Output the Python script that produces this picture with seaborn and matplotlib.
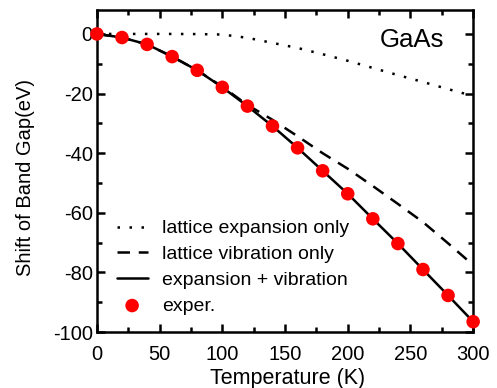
import numpy as np
import pandas as pd
import matplotlib
matplotlib.use("Agg")
import matplotlib.pyplot as plt
import seaborn as sns
from matplotlib.ticker import MultipleLocator

# ---- data ----
temps = [0, 20, 40, 60, 80, 100, 120, 140, 160, 180, 200, 220, 240, 260, 280, 300]
exper = [0.0, -1.2, -3.5, -7.6, -12.2, -17.9, -24.2, -30.9, -38.2, -45.9, -53.6, -62.0, -70.3, -79.0, -87.7, -96.5]
expansion_only = [0.0, 0.0, 0.0, 0.0, -0.05, -0.2, -1.3, -3.0, -4.7, -6.8, -9.0, -11.4, -13.8, -16.1, -18.5, -20.8]
vibration_only = [0.0, -1.2, -3.5, -7.6, -12.2, -17.7, -23.8, -28.8, -34.3, -40.0, -45.2, -51.0, -57.0, -63.1, -70.2, -77.5]
combined = exper

labels = ["lattice expansion only", "lattice vibration only", "expansion + vibration", "exper."]
title_text = "GaAs"
xlabel = "Temperature (K)"
ylabel = "Shift of Band Gap(eV)"

sns.set_style("ticks")
plt.rcParams["font.family"] = ["Liberation Sans", "DejaVu Sans"]
plt.rcParams["axes.unicode_minus"] = False
plt.rcParams["text.color"] = "black"
plt.rcParams["axes.labelcolor"] = "black"
plt.rcParams["xtick.color"] = "black"
plt.rcParams["ytick.color"] = "black"
plt.rcParams["axes.edgecolor"] = "black"

fig = plt.figure(figsize=(4.97, 3.88), dpi=100)
ax = fig.add_axes([0.195, 0.144, 0.757, 0.830])

lw = 1.8
sns.lineplot(x=temps, y=expansion_only, ax=ax, color="black", linewidth=lw, label=labels[0])
ax.lines[-1].set_dashes((1, 3.8))
sns.lineplot(x=temps, y=vibration_only, ax=ax, color="black", linewidth=lw, label=labels[1])
ax.lines[-1].set_dashes((5, 3.5))
sns.lineplot(x=temps, y=combined, ax=ax, color="black", linewidth=lw, label=labels[2])
sns.scatterplot(x=temps, y=exper, ax=ax, color="#ff0000", s=95, edgecolor="none",
                label=labels[3], zorder=5, clip_on=False)

ax.set_xlim(0, 300)
ax.set_ylim(-100, 8)
ax.xaxis.set_major_locator(MultipleLocator(50))
ax.xaxis.set_minor_locator(MultipleLocator(25))
ax.yaxis.set_major_locator(MultipleLocator(20))
ax.yaxis.set_minor_locator(MultipleLocator(10))
ax.tick_params(which="both", direction="in", top=True, right=True, width=1.8, labelsize=14.5)
ax.tick_params(axis="x", which="both", pad=9.5)
ax.tick_params(axis="y", which="both", pad=3)
ax.tick_params(which="major", length=6)
ax.tick_params(which="minor", length=3.5)
for s in ax.spines.values():
    s.set_visible(True)
    s.set_linewidth(1.8)

ax.set_xlabel(xlabel, fontsize=15.5)
ax.set_ylabel(ylabel, fontsize=14.5)
ax.xaxis.set_label_coords(0.507, -0.11)
ax.yaxis.set_label_coords(-0.165, 0.48)

ax.text(0.838, 0.907, title_text, transform=ax.transAxes, fontsize=18.5,
        ha="center", va="center")

leg = ax.legend(loc="lower left", frameon=False, fontsize=14, handlelength=1.6,
                handletextpad=0.75, labelspacing=0.42, borderaxespad=0.3,
                bbox_to_anchor=(0.016, 0.012))

fig.savefig("out.png", dpi=100)
